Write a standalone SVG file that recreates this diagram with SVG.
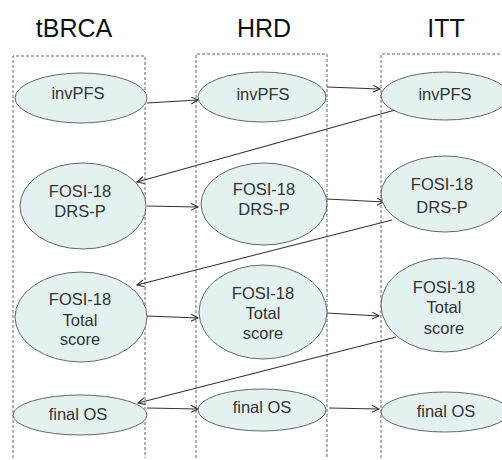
<svg xmlns="http://www.w3.org/2000/svg" width="502" height="460" viewBox="0 0 502 460">
<defs>
<style>
.hdr{font-family:"Liberation Sans",Arial,sans-serif;font-size:25px;fill:#111;text-anchor:middle}
.lbl{font-family:"Liberation Sans",Arial,sans-serif;font-size:16.5px;fill:#333;text-anchor:middle}
.col{fill:none;stroke:#666;stroke-width:1;stroke-dasharray:3,2}
.nd{fill:#e3f1f1;stroke:#666;stroke-width:1}
.cn{fill:none;stroke:#333;stroke-width:1.1;marker-end:url(#ah)}
</style>
<marker id="ah" markerUnits="userSpaceOnUse" markerWidth="10" markerHeight="10" refX="7" refY="3.5" orient="auto">
<path d="M0,0 L7,3.5 L0,7" fill="none" stroke="#333" stroke-width="1.1"/>
</marker>
</defs>
<rect width="502" height="460" fill="#fff"/>
<g id="headers">
<text class="hdr" x="74" y="37">tBRCA</text>
<text class="hdr" x="264" y="37">HRD</text>
<text class="hdr" x="446" y="37">ITT</text>
</g>
<g id="columns">
<path class="col" d="M13,458 V56 H145 V458"/>
<path class="col" d="M196,458 V54 H327 V458"/>
<path class="col" d="M381,458 V54 H504"/>
</g>
<g id="connectors">
<path class="cn" d="M147,103 L198,100"/>
<path class="cn" d="M327,87 L380,89"/>
<path class="cn" d="M395,110 L137,182"/>
<path class="cn" d="M147,206 L198,207"/>
<path class="cn" d="M327,199 L384,202"/>
<path class="cn" d="M392,220 L137,285"/>
<path class="cn" d="M147,316 L198,318"/>
<path class="cn" d="M326,313 L379,316"/>
<path class="cn" d="M396,337 L138,403"/>
<path class="cn" d="M147,408 L198,409"/>
<path class="cn" d="M329,408 L379,409"/>
</g>
<g id="tbrca-invpfs"><ellipse class="nd" cx="81" cy="98" rx="66" ry="25"/><text class="lbl" x="78" y="99">invPFS</text></g>
<g id="tbrca-drsp"><ellipse class="nd" cx="83" cy="206" rx="63" ry="43"/><text class="lbl" x="80" y="197">FOSI-18</text><text class="lbl" x="80" y="217">DRS-P</text></g>
<g id="tbrca-total"><ellipse class="nd" cx="81" cy="317" rx="66" ry="45"/><text class="lbl" x="80" y="305">FOSI-18</text><text class="lbl" x="80" y="326">Total</text><text class="lbl" x="80" y="345">score</text></g>
<g id="tbrca-os"><ellipse class="nd" cx="80" cy="415" rx="67" ry="20"/><text class="lbl" x="78" y="420">final OS</text></g>
<g id="hrd-invpfs"><ellipse class="nd" cx="262" cy="97" rx="64" ry="25"/><text class="lbl" x="263" y="100">invPFS</text></g>
<g id="hrd-drsp"><ellipse class="nd" cx="264" cy="204" rx="63" ry="41"/><text class="lbl" x="264" y="195">FOSI-18</text><text class="lbl" x="264" y="215">DRS-P</text></g>
<g id="hrd-total"><ellipse class="nd" cx="263" cy="312" rx="64" ry="47"/><text class="lbl" x="263" y="299">FOSI-18</text><text class="lbl" x="263" y="319">Total</text><text class="lbl" x="263" y="339">score</text></g>
<g id="hrd-os"><ellipse class="nd" cx="262" cy="410" rx="64" ry="21"/><text class="lbl" x="262" y="413">final OS</text></g>
<g id="itt-invpfs"><ellipse class="nd" cx="445" cy="96" rx="64" ry="24"/><text class="lbl" x="445" y="100">invPFS</text></g>
<g id="itt-drsp"><ellipse class="nd" cx="445" cy="194" rx="64" ry="38"/><text class="lbl" x="442" y="190">FOSI-18</text><text class="lbl" x="442" y="213">DRS-P</text></g>
<g id="itt-total"><ellipse class="nd" cx="445" cy="305" rx="64" ry="47"/><text class="lbl" x="444" y="293">FOSI-18</text><text class="lbl" x="444" y="313">Total</text><text class="lbl" x="444" y="334">score</text></g>
<g id="itt-os"><ellipse class="nd" cx="445" cy="412" rx="64" ry="20"/><text class="lbl" x="446" y="417">final OS</text></g>
</svg>
